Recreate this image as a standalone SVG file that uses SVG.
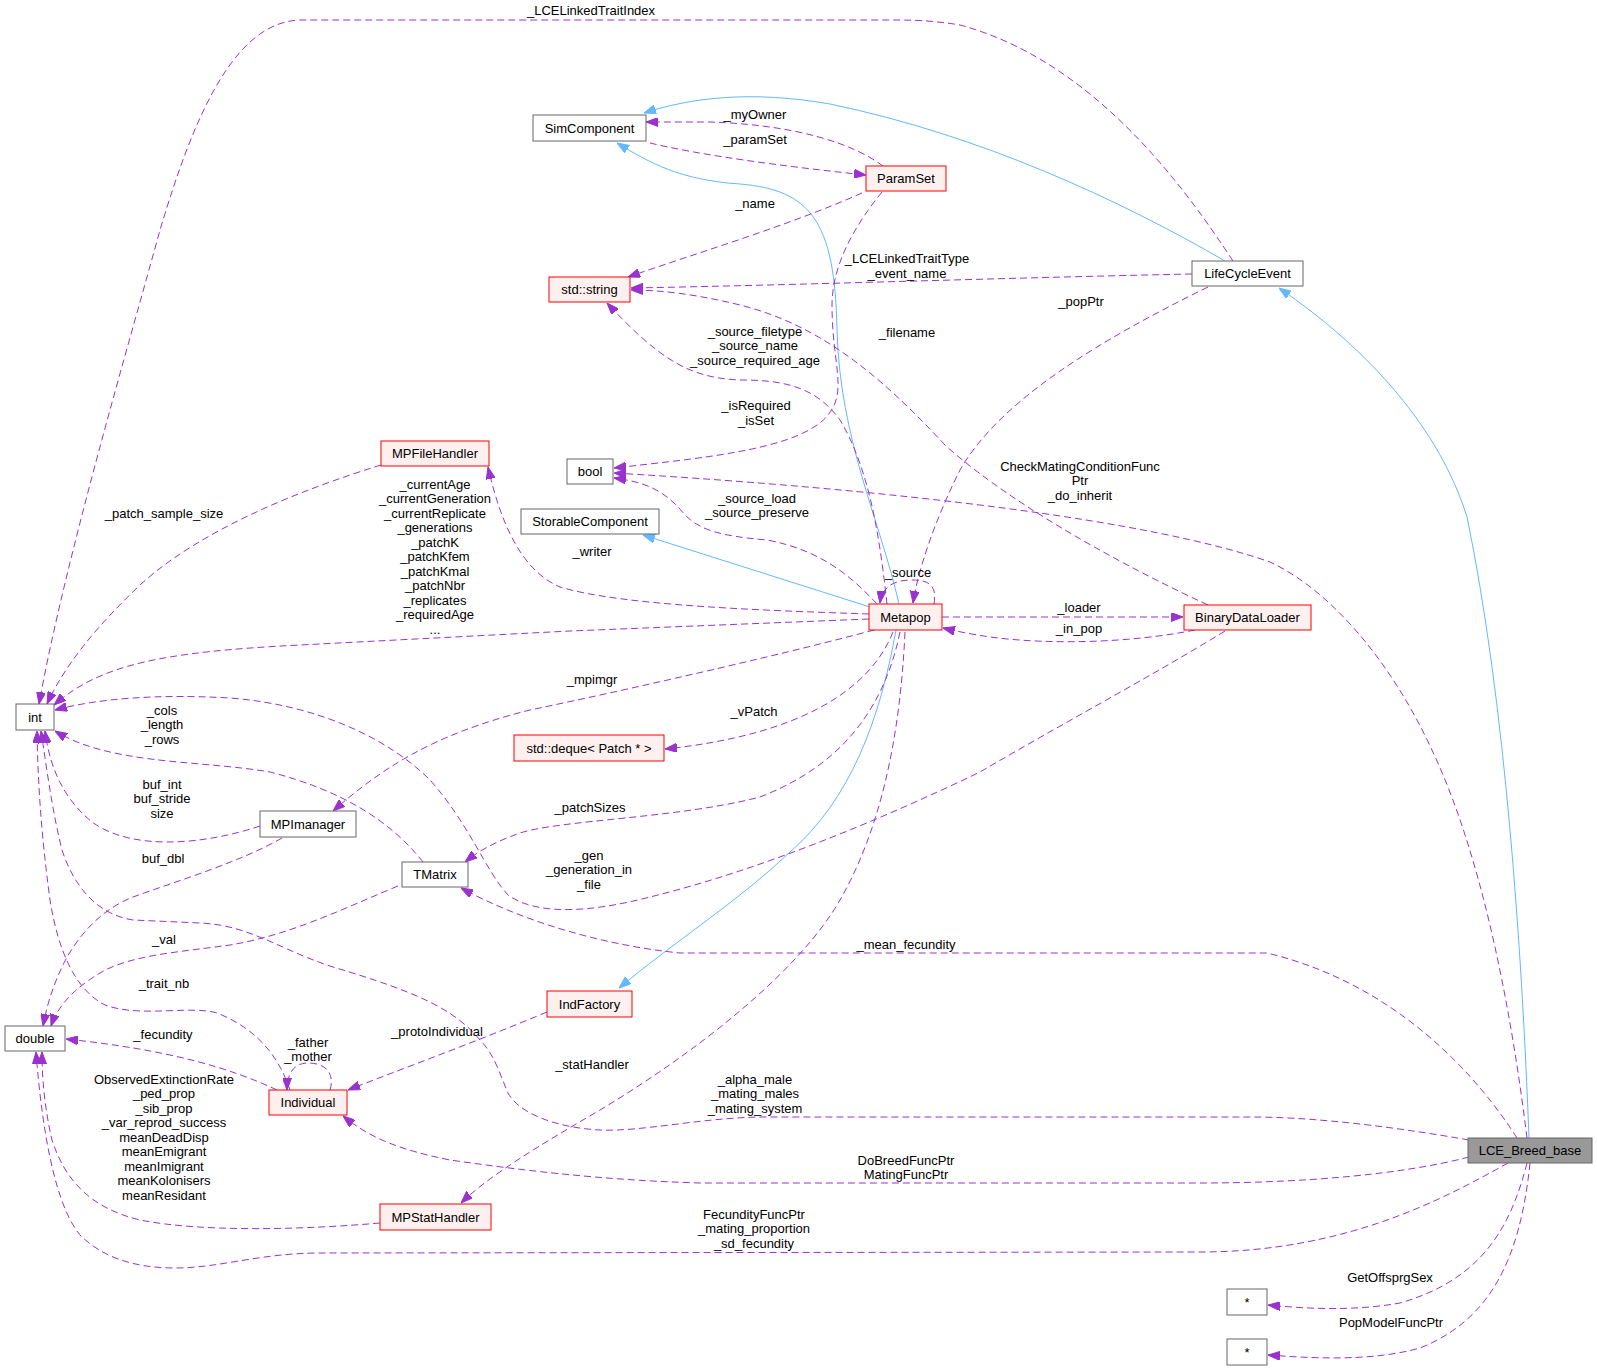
<svg xmlns="http://www.w3.org/2000/svg" width="1597" height="1370" viewBox="0 0 1597 1370">
<style>
.n rect{fill:#ffffff;stroke:#666666;stroke-width:1}
.r rect{fill:#fff0f0;stroke:#ff0000;stroke-width:1}
.m rect{fill:#999999;stroke:#666666;stroke-width:1}
text{font-family:"Liberation Sans",Arial,sans-serif;font-size:13px;fill:#000000;text-anchor:middle}
.e path{fill:none;stroke:#9a32cd;stroke-width:1;stroke-dasharray:7,4;marker-end:url(#pa)}
.i path{fill:none;stroke:#63b8ff;stroke-width:1;marker-end:url(#ba)}
</style>
<defs>
<marker id="pa" markerUnits="userSpaceOnUse" markerWidth="12" markerHeight="9" refX="12" refY="4.5" orient="auto"><path d="M0,0 L12,4.5 L0,9 z" fill="#9a32cd" stroke="#9a32cd"/></marker>
<marker id="ba" markerUnits="userSpaceOnUse" markerWidth="12" markerHeight="9" refX="12" refY="4.5" orient="auto"><path d="M0,0 L12,4.5 L0,9 z" fill="#63b8ff" stroke="#63b8ff"/></marker>
</defs>
<rect width="1597" height="1370" fill="#ffffff"/>
<g id="connectors">
<g class="i">
<path d="M1529,1138 C1522,950 1505,700 1467,517 C1440,430 1370,350 1279,288"/>
<path d="M1225,261 C1120,200 980,135 830,104 C750,90 690,98 644,113"/>
<path d="M899,604 C880,520 840,440 837,330 C835,220 810,190 740,184 C680,180 650,163 617,143"/>
<path d="M870,607 L643,535"/>
<path d="M896,630 C880,720 850,800 790,852 C740,900 670,945 619,988"/>
</g>
<g class="e">
<path d="M1233,261 C1180,180 1090,60 960,25 C930,20 910,20 890,20 L300,20 C230,22 190,130 160,230 C130,340 65,560 39,704"/>
<path d="M883,166 C855,145 800,125 710,122 L646,122"/>
<path d="M650,143 C700,155 780,166 866,175"/>
<path d="M862,193 C790,225 700,252 628,277"/>
<path d="M1192,274 C1000,278 800,285 631,288"/>
<path d="M1208,605 C1100,555 1000,495 945,445 C880,375 820,325 740,305 C695,294 660,290 631,290"/>
<path d="M887,604 C880,540 870,470 840,420 C815,385 780,380 740,380 C690,378 660,360 607,303"/>
<path d="M882,192 C855,225 832,265 832,305 C832,365 848,390 828,415 C800,450 700,458 614,468"/>
<path d="M877,604 C850,575 820,550 767,540 C720,536 700,530 685,515 C665,490 645,482 614,478"/>
<path d="M1527,1138 C1510,1000 1480,850 1431,748 C1390,660 1330,590 1270,562 C1150,520 900,490 614,473"/>
<path d="M1208,287 C1100,340 1000,400 960,470 C935,520 918,570 913,603"/>
<path d="M934,604 C937,586 930,580 912,580 C895,580 882,586 880,603"/>
<path d="M869,614 C750,610 620,605 560,587 C520,570 500,520 488,467"/>
<path d="M869,619 L570,631 L300,645 C160,652 100,665 54,705"/>
<path d="M381,465 C300,490 200,530 140,585 C95,628 65,665 47,704"/>
<path d="M1225,631 C1150,677 1060,725 980,772 C880,820 760,870 650,897 C600,910 540,918 508,895 C485,870 470,825 430,780 C390,740 320,705 230,698 C160,694 100,698 55,710"/>
<path d="M423,862 C390,820 340,790 270,772 C200,760 110,765 55,731"/>
<path d="M260,826 C200,846 130,850 92,822 C65,800 50,770 45,731"/>
<path d="M290,1090 C280,1060 260,1030 217,1013 C190,1005 140,1018 105,1005 C75,990 58,950 50,900 C42,840 38,790 37,731"/>
<path d="M1469,1140 C1400,1128 1320,1117 1250,1117 L760,1117 C700,1118 640,1132 600,1130 C560,1128 520,1115 508,1093 C500,1075 495,1055 480,1040 C455,1010 420,993 333,967 C280,950 250,925 200,923 L133,920 C100,915 75,890 62,850 C52,810 47,770 41,731"/>
<path d="M1517,1138 C1480,1080 1400,985 1267,953 L680,953 C600,945 520,920 461,888"/>
<path d="M1469,1157 C1400,1175 1300,1183 1200,1183 L700,1183 C600,1180 520,1170 450,1160 C400,1150 370,1138 343,1116"/>
<path d="M1508,1163 C1450,1195 1350,1252 1200,1252 L320,1253 C260,1253 220,1268 175,1268 C130,1268 100,1255 80,1235 C55,1205 42,1130 36,1052"/>
<path d="M380,1223 C300,1230 200,1232 140,1220 C90,1208 65,1180 52,1140 C45,1110 42,1080 42,1052"/>
<path d="M282,838 C240,862 180,880 133,897 C100,910 80,935 67,957 C55,980 48,1000 43,1026"/>
<path d="M398,886 C340,910 290,935 230,945 C180,952 130,955 100,973 C75,988 58,1005 51,1026"/>
<path d="M277,1090 C230,1068 170,1050 66,1039"/>
<path d="M330,1090 C335,1074 326,1063 308,1063 C295,1063 287,1072 287,1090"/>
<path d="M547,1012 C480,1040 420,1062 348,1090"/>
<path d="M874,630 C800,650 650,685 530,710 C430,735 380,770 333,811"/>
<path d="M893,632 C870,690 800,735 665,749"/>
<path d="M900,632 C882,720 830,770 760,797 C680,818 560,820 520,833 C495,842 480,850 465,862"/>
<path d="M905,632 C900,740 880,830 840,900 C800,970 700,1050 600,1110 C540,1145 490,1175 461,1203"/>
<path d="M942,617 L1183,617"/>
<path d="M1195,630 C1130,643 1050,645 990,637 C970,634 955,631 943,628"/>
<path d="M1527,1163 C1510,1230 1480,1280 1400,1303 C1350,1312 1300,1308 1268,1305"/>
<path d="M1530,1163 C1520,1260 1490,1320 1420,1348 C1370,1362 1310,1358 1268,1355"/>
</g>
<g id="edge-labels">
<text x="591" y="15">_LCELinkedTraitIndex</text>
<text x="755" y="119">_myOwner</text>
<text x="755" y="144">_paramSet</text>
<text x="755" y="208">_name</text>
<text x="907" y="263">_LCELinkedTraitType</text>
<text x="907" y="277.5">_event_name</text>
<text x="1081" y="306">_popPtr</text>
<text x="755" y="335.5">_source_filetype</text>
<text x="755" y="350">_source_name</text>
<text x="755" y="364.5">_source_required_age</text>
<text x="907" y="336.5">_filename</text>
<text x="756" y="410">_isRequired</text>
<text x="756" y="424.5">_isSet</text>
<text x="1080" y="470.5">CheckMatingConditionFunc</text>
<text x="1080" y="485">Ptr</text>
<text x="1080" y="499.5">_do_inherit</text>
<text x="757" y="502.5">_source_load</text>
<text x="757" y="517">_source_preserve</text>
<text x="592" y="555.5">_writer</text>
<text x="908" y="576.5">_source</text>
<text x="1079" y="612">_loader</text>
<text x="1079" y="633">_in_pop</text>
<text x="164" y="518">_patch_sample_size</text>
<text x="435" y="488.5">_currentAge</text>
<text x="435" y="503">_currentGeneration</text>
<text x="435" y="517.5">_currentReplicate</text>
<text x="435" y="532">_generations</text>
<text x="435" y="546.5">_patchK</text>
<text x="435" y="561">_patchKfem</text>
<text x="435" y="575.5">_patchKmal</text>
<text x="435" y="590">_patchNbr</text>
<text x="435" y="604.5">_replicates</text>
<text x="435" y="619">_requiredAge</text>
<text x="435" y="633.5">...</text>
<text x="592" y="683.5">_mpimgr</text>
<text x="162" y="714.5">_cols</text>
<text x="162" y="729">_length</text>
<text x="162" y="743.5">_rows</text>
<text x="754" y="715.5">_vPatch</text>
<text x="162" y="788.5">buf_int</text>
<text x="162" y="803">buf_stride</text>
<text x="162" y="817.5">size</text>
<text x="590" y="811.5">_patchSizes</text>
<text x="589" y="859.5">_gen</text>
<text x="589" y="874">_generation_in</text>
<text x="589" y="888.5">_file</text>
<text x="163" y="862.5">buf_dbl</text>
<text x="164" y="943.5">_val</text>
<text x="906" y="948.5">_mean_fecundity</text>
<text x="164" y="987.5">_trait_nb</text>
<text x="163" y="1038.5">_fecundity</text>
<text x="308" y="1046.5">_father</text>
<text x="308" y="1061">_mother</text>
<text x="437" y="1035.5">_protoIndividual</text>
<text x="592" y="1068.5">_statHandler</text>
<text x="755" y="1083.5">_alpha_male</text>
<text x="755" y="1098">_mating_males</text>
<text x="755" y="1112.5">_mating_system</text>
<text x="164" y="1083.5">ObservedExtinctionRate</text>
<text x="164" y="1098">_ped_prop</text>
<text x="164" y="1112.5">_sib_prop</text>
<text x="164" y="1127">_var_reprod_success</text>
<text x="164" y="1141.5">meanDeadDisp</text>
<text x="164" y="1156">meanEmigrant</text>
<text x="164" y="1170.5">meanImigrant</text>
<text x="164" y="1185">meanKolonisers</text>
<text x="164" y="1199.5">meanResidant</text>
<text x="906" y="1164.5">DoBreedFuncPtr</text>
<text x="906" y="1179">MatingFuncPtr</text>
<text x="754" y="1218.5">FecundityFuncPtr</text>
<text x="754" y="1233">_mating_proportion</text>
<text x="754" y="1247.5">_sd_fecundity</text>
<text x="1390" y="1281.5">GetOffsprgSex</text>
<text x="1391" y="1326.5">PopModelFuncPtr</text>
</g>
</g>
<g id="SimComponent" class="n"><rect x="533" y="115" width="113" height="26"/><text x="589.5" y="132.5">SimComponent</text></g>
<g id="ParamSet" class="r"><rect x="866" y="166" width="80" height="25"/><text x="906" y="183">ParamSet</text></g>
<g id="std_string" class="r"><rect x="549" y="277" width="81" height="25"/><text x="589.5" y="294">std::string</text></g>
<g id="LifeCycleEvent" class="n"><rect x="1192" y="261" width="111" height="25"/><text x="1247.5" y="278">LifeCycleEvent</text></g>
<g id="bool" class="n"><rect x="567" y="459" width="46" height="25"/><text x="590" y="476">bool</text></g>
<g id="StorableComponent" class="n"><rect x="521" y="509" width="138" height="25"/><text x="590" y="526">StorableComponent</text></g>
<g id="MPFileHandler" class="r"><rect x="381" y="441" width="108" height="25"/><text x="435" y="458">MPFileHandler</text></g>
<g id="Metapop" class="r"><rect x="869" y="604" width="73" height="26"/><text x="905.5" y="621.5">Metapop</text></g>
<g id="BinaryDataLoader" class="r"><rect x="1184" y="605" width="127" height="25"/><text x="1247.5" y="622">BinaryDataLoader</text></g>
<g id="int" class="n"><rect x="16" y="704" width="38" height="26"/><text x="35" y="721.5">int</text></g>
<g id="std_deque" class="r"><rect x="514" y="735" width="150" height="26"/><text x="589" y="752.5">std::deque&lt; Patch * &gt;</text></g>
<g id="MPImanager" class="n"><rect x="260" y="811" width="96" height="26"/><text x="308" y="828.5">MPImanager</text></g>
<g id="TMatrix" class="n"><rect x="402" y="862" width="66" height="25"/><text x="435" y="879">TMatrix</text></g>
<g id="IndFactory" class="r"><rect x="547" y="991" width="85" height="26"/><text x="589.5" y="1008.5">IndFactory</text></g>
<g id="double" class="n"><rect x="5" y="1026" width="60" height="25"/><text x="35" y="1043">double</text></g>
<g id="Individual" class="r"><rect x="269" y="1090" width="78" height="25"/><text x="308" y="1107">Individual</text></g>
<g id="MPStatHandler" class="r"><rect x="380" y="1204" width="111" height="26"/><text x="435.5" y="1221.5">MPStatHandler</text></g>
<g id="LCE_Breed_base" class="m"><rect x="1468" y="1138" width="124" height="25"/><text x="1530" y="1155">LCE_Breed_base</text></g>
<g id="star1" class="n"><rect x="1227" y="1289" width="40" height="26"/><text x="1247" y="1306.5">*</text></g>
<g id="star2" class="n"><rect x="1227" y="1339" width="40" height="26"/><text x="1247" y="1356.5">*</text></g>
</svg>
